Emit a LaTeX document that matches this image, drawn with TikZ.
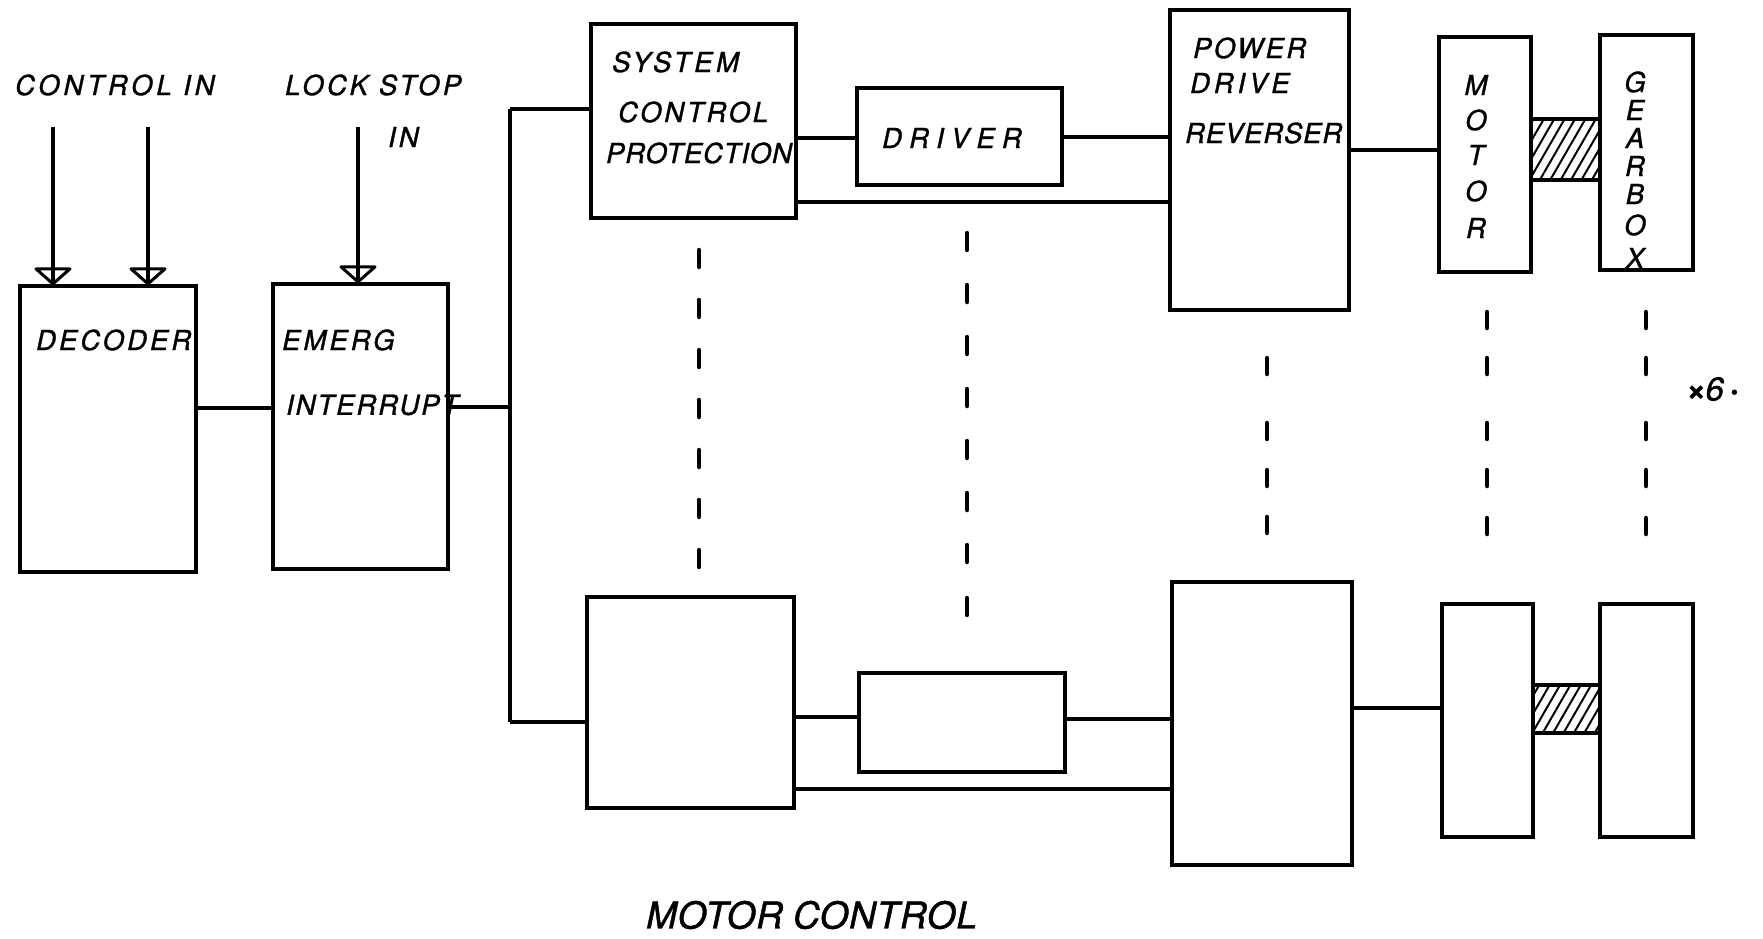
\documentclass[tikz,border=0pt]{standalone}
\usepackage{fontspec}
\newfontfamily\labfont[LetterSpace=11,FakeBold=1.2]{TeX Gyre Heros}
\usetikzlibrary{patterns.meta}
\newcommand\lsp[1]{\addfontfeature{LetterSpace=#1}}
\begin{document}
\begin{tikzpicture}[x=1pt,y=-1pt,
  box/.style={draw, line width=4.3pt, inner sep=0pt},
  conn/.style={line width=3.6pt},
  lbl/.style={inner sep=0pt, anchor=west, font=\labfont\itshape\fontsize{27.5}{30}\selectfont},
  vl/.style={inner sep=0pt, font=\labfont\itshape\fontsize{27.5}{30}\selectfont},
  big/.style={inner sep=0pt, anchor=west, font=\labfont\itshape\fontsize{37}{40}\selectfont\lsp{2}},
  dsh/.style={line width=4.5pt, line cap=round},
  tri/.style={line width=3pt, line join=round},
  hatch/.style={draw, line width=3.6pt, inner sep=0pt, pattern={Lines[angle=60,distance=9pt,line width=2pt]}}]
\fill[white] (0,0) rectangle (1763,939);
\useasboundingbox (0,0) rectangle (1763,939);

% ---- boxes ----
\node[box, minimum width=176pt, minimum height=286pt] (dec) at (108,429) {};
\node[box, minimum width=175pt, minimum height=285pt] (emg) at (360.5,426.5) {};
\node[box, minimum width=205pt, minimum height=194pt] (scp1) at (693.5,121) {};
\node[box, minimum width=205pt, minimum height=97pt] (drv1) at (959.5,136.5) {};
\node[box, minimum width=179pt, minimum height=300pt] (pdr1) at (1259.5,160) {};
\node[box, minimum width=92pt, minimum height=235pt] (mot1) at (1485,154.5) {};
\node[box, minimum width=93pt, minimum height=235pt] (gbx1) at (1646.5,152.5) {};
\node[hatch, minimum width=69pt, minimum height=61pt] (hat1) at (1565.5,149.5) {};

\node[box, minimum width=207pt, minimum height=211pt] (scp2) at (690.5,702.5) {};
\node[box, minimum width=206pt, minimum height=99pt] (drv2) at (962,722.5) {};
\node[box, minimum width=180pt, minimum height=283pt] (pdr2) at (1262,723.5) {};
\node[box, minimum width=91pt, minimum height=233pt] (mot2) at (1487.5,720.5) {};
\node[box, minimum width=93pt, minimum height=233pt] (gbx2) at (1646.5,720.5) {};
\node[hatch, minimum width=67pt, minimum height=48pt] (hat2) at (1566.5,709) {};

% ---- labels ----
\node[lbl] (tci) at (15,85) {\lsp{14}CONTROL IN};
\node[lbl] (tls) at (285,85) {\lsp{12}LOCK STOP};
\node[lbl] (tin) at (388,137) {IN};
\node[lbl] (tdec) at (36,340) {DECODER};
\node[lbl] (tem) at (282,340) {EMERG};
\node[lbl] (tint) at (286,405) {\lsp{7}INTERRUPT};
\node[lbl] (tsys) at (612,62) {\lsp{13}SYSTEM};
\node[lbl] (tcon) at (618,112) {\lsp{10}CONTROL};
\node[lbl] (tpro) at (606,153) {\lsp{3}PROTECTION};
\node[lbl] (tdrv) at (882,138) {\lsp{26}DRIVER};
\node[lbl] (tpow) at (1193,48) {\lsp{9}POWER};
\node[lbl] (tdri) at (1190,83) {\lsp{14}DRIVE};
\node[lbl] (trev) at (1185,133) {\lsp{3}REVERSER};
\foreach \l/\y [count=\i] in {M/85,O/120,T/155,O/191,R/228}
  \node[vl] (mt\i) at (1476,\y) {\l};
\foreach \l/\y [count=\i] in {G/82,E/110,A/138,R/166,B/194,O/225,X/258}
  \node[vl] (gb\i) at (1635,\y) {\l};
\node[lbl, font=\labfont\itshape\fontsize{33}{36}\selectfont] (tx6) at (1686,389) {{\bfseries×}6\,{\bfseries·}};
\node[big] (tmc) at (646,915) {MOTOR\hspace{10pt}CONTROL};

% ---- input arrows ----
\coordinate (ci1) at (53,127);
\coordinate (ci2) at (148,127);
\coordinate (ls) at (358,127);
\foreach \c/\b in {ci1/dec,ci2/dec,ls/emg}{
  \draw[conn] (\c) -- (\c |- \b.north);
  \draw[tri] (\c |- \b.north) ++(-17,-15) -- ++(34,0) -- (\c |- \b.north) -- cycle;
}

% ---- connectors ----
\draw[conn] (dec.east |- 0,408) -- (emg.west |- 0,408);
\coordinate (bt) at (510,109);
\coordinate (bm) at (510,407);
\coordinate (bb) at (510,722);
\draw[conn] (emg.east |- bm) -- (bm);
\draw[conn] (bt) -- (bb);
\draw[conn] (bt) -- (bt -| scp1.west);
\draw[conn] (bb) -- (bb -| scp2.west);

\draw[conn] (scp1.east |- 0,138) -- (drv1.west |- 0,138);
\draw[conn] (drv1.east |- 0,137) -- (pdr1.west |- 0,137);
\draw[conn] (scp1.east |- 0,202) -- (pdr1.west |- 0,202);
\draw[conn] (pdr1.east |- 0,150) -- (mot1.west |- 0,150);

\draw[conn] (scp2.east |- 0,717) -- (drv2.west |- 0,717);
\draw[conn] (drv2.east |- 0,719) -- (pdr2.west |- 0,719);
\draw[conn] (scp2.east |- 0,789) -- (pdr2.west |- 0,789);
\draw[conn] (pdr2.east |- 0,708) -- (mot2.west |- 0,708);

% ---- dashed continuation marks ----
\foreach \y in {250,300,350,400,450,500,550}
  \draw[dsh] (699,\y) -- ++(0,17);
\foreach \y in {233,285,337,389,441,493,545,598}
  \draw[dsh] (967,\y) -- ++(0,17);
\foreach \y in {358,423,470,517}
  \draw[dsh] (1267,\y) -- ++(0,16);
\foreach \y in {312,358,423,470,518}{
  \draw[dsh] (1487,\y) -- ++(0,16);
  \draw[dsh] (1646,\y) -- ++(0,16);
}
\end{tikzpicture}
\end{document}
